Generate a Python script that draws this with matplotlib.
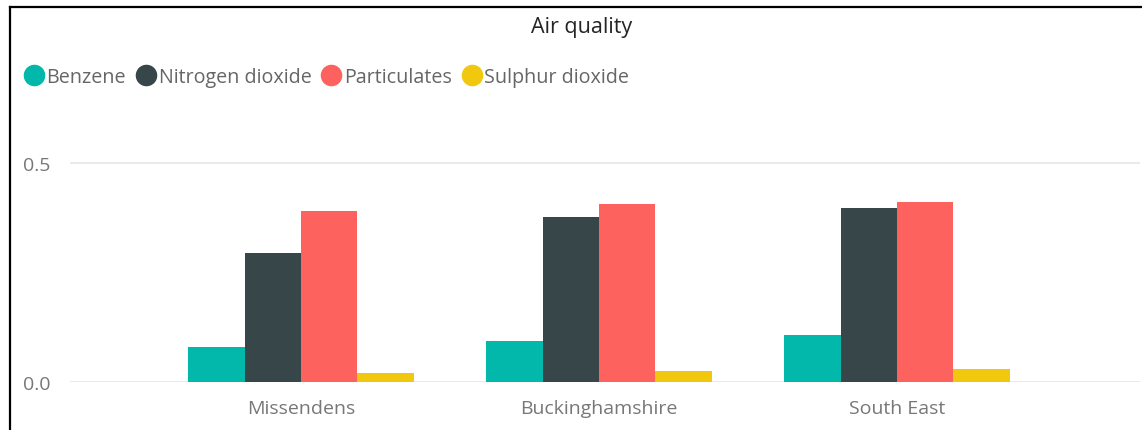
import numpy as np
import matplotlib.pyplot as plt
from matplotlib.lines import Line2D

regions = ["Missendens", "Buckinghamshire", "South East"]
series = ["Benzene", "Nitrogen dioxide", "Particulates", "Sulphur dioxide"]
benzene = [0.079, 0.093, 0.108]
nitrogen = [0.294, 0.376, 0.397]
particulates = [0.390, 0.406, 0.410]
sulphur = [0.021, 0.025, 0.029]
colores = ["#01B8AA", "#374649", "#FD625E", "#F2C80F"]

plt.rcParams['font.family'] = ['Open Sans', 'DejaVu Sans']

fig = plt.figure(figsize=(11.42, 4.31), dpi=100)
ax = fig.add_axes([70/1142, 0.1114, 1070/1142, 0.6106])

x = np.arange(len(regions))
w = 0.189
valores = [benzene, nitrogen, particulates, sulphur]
for i, v in enumerate(valores):
    ax.bar(x + (i - 1.5)*w, v, w, color=colores[i], linewidth=0)

ax.set_xlim(-0.775, 2.815)
ax.set_ylim(0, 0.6)
ax.set_yticks([0.0, 0.5])
ax.set_yticklabels(["0.0", "0.5"])
ax.set_xticks(x)
ax.set_xticklabels(regions)
ax.grid(axis='y', color='#e6e6e6', linewidth=1.2)
ax.set_axisbelow(True)
ax.tick_params(length=0, labelsize=14, colors='#777777')
ax.tick_params(axis='y', pad=14)
ax.tick_params(axis='x', pad=12)
for s in ax.spines.values():
    s.set_visible(False)

# titulo y leyenda
fig.text(0.509, 1-28/431, "Air quality", ha='center', va='center', fontsize=15.5, color='#252423')
handles = [Line2D([], [], marker='o', linestyle='', markersize=14.5, color=c) for c in colores]
fig.legend(handles, series, loc='center left', bbox_to_anchor=(3/1142, 1-78/431), ncol=4,
           frameon=False, handletextpad=0.0, columnspacing=0.35, handlelength=1.3,
           fontsize=14.2, labelcolor='#666666')

# marco
fig.add_artist(Line2D([10/1142, 1], [1-8/431, 1-8/431], color='black', linewidth=1.6))
fig.add_artist(Line2D([10/1142, 10/1142], [0, 1-8/431], color='black', linewidth=1.6))

plt.savefig("out.png")
